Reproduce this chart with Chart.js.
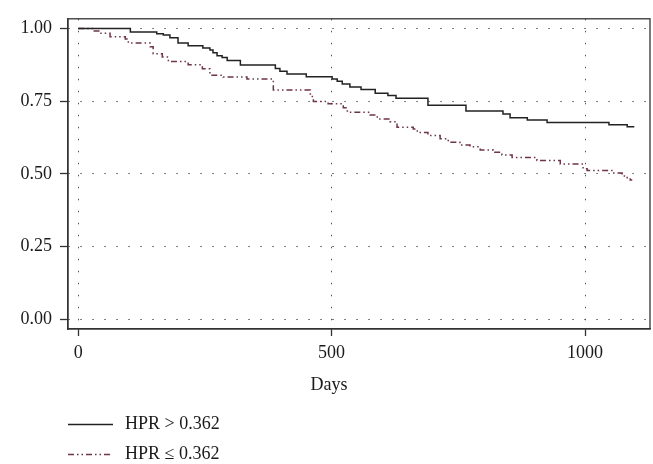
<!DOCTYPE html>
<html>
<head>
<meta charset="utf-8">
<script src="https://cdn.jsdelivr.net/npm/chart.js@4"></script>
<style>
  html, body { margin: 0; padding: 0; background: #fff; }
  #wrap { position: relative; width: 653px; height: 464px; }
  #km { position: absolute; left: 0; top: 0; }
  .leg { position: absolute; left: 68px; height: 20px; font: 18px "Liberation Serif", serif; color: #1a1a1a; white-space: nowrap; }
  .leg svg { position: absolute; left: 0; top: 0; }
  .leg span { position: absolute; left: 57px; top: -1px; line-height: 20px; }
  #xt { position: absolute; left: 279px; width: 100px; top: 374px; text-align: center; font: 18px "Liberation Serif", serif; color: #1a1a1a; line-height: 20px; }
</style>
</head>
<body>
<div id="wrap">
  <canvas id="km" width="653" height="464"></canvas>
  <div id="xt">Days</div>
  <div class="leg" style="top:414px"><svg width="46" height="20"><line x1="0" y1="10.5" x2="45" y2="10.5" stroke="#222" stroke-width="1.5"/></svg><span>HPR &gt; 0.362</span></div>
  <div class="leg" style="top:444px"><svg width="46" height="20"><line x1="0" y1="10.5" x2="45" y2="10.5" stroke="#6d3545" stroke-width="1.5" stroke-dasharray="6 3 1.5 3 1.5 3"/></svg><span>HPR ≤ 0.362</span></div>
</div>
<script>
// Kaplan-Meier style survival curves, HPR split at 0.362
const xTicks = [0, 500, 1000];
const yTicks = [0, 0.25, 0.5, 0.75, 1];

// HPR > 0.362
const hiDays = [0, 103, 155, 168, 181, 197, 217, 246, 260, 266, 274, 284, 294, 320, 389, 398, 412, 450, 501, 511, 521, 536, 558, 586, 611, 627, 690, 765, 838, 852, 886, 925, 1047, 1083, 1097];
const hiSurv = [1.0, 0.988, 0.982, 0.977, 0.968, 0.950, 0.940, 0.933, 0.926, 0.916, 0.906, 0.900, 0.890, 0.874, 0.862, 0.853, 0.843, 0.834, 0.826, 0.818, 0.809, 0.799, 0.790, 0.777, 0.769, 0.760, 0.736, 0.716, 0.706, 0.693, 0.685, 0.677, 0.669, 0.662, 0.662];

// HPR <= 0.362
const loDays = [0, 30, 43, 63, 93, 99, 142, 148, 166, 178, 217, 245, 260, 286, 333, 385, 458, 464, 493, 523, 531, 576, 590, 615, 629, 661, 669, 690, 714, 730, 753, 773, 793, 819, 836, 856, 905, 951, 996, 1004, 1055, 1073, 1083, 1089, 1093];
const loSurv = [1.0, 0.991, 0.983, 0.971, 0.964, 0.950, 0.937, 0.913, 0.902, 0.886, 0.875, 0.861, 0.839, 0.833, 0.826, 0.788, 0.766, 0.749, 0.741, 0.727, 0.712, 0.702, 0.689, 0.679, 0.660, 0.654, 0.642, 0.632, 0.621, 0.609, 0.599, 0.593, 0.582, 0.574, 0.565, 0.556, 0.546, 0.534, 0.518, 0.512, 0.503, 0.493, 0.487, 0.479, 0.479];

const toPts = (xs, ys) => xs.map((x, i) => ({ x: x, y: ys[i] }));

const font = { family: '"Liberation Serif", serif', size: 18 };

// full box round the plot area
const frame = {
  id: 'frame',
  afterDraw(chart) {
    const a = chart.chartArea, c = chart.ctx;
    c.save();
    c.strokeStyle = '#333';
    c.lineWidth = 1.3;
    c.strokeRect(a.left, a.top, a.right - a.left, a.bottom - a.top);
    c.restore();
  }
};

new Chart(document.getElementById('km'), {
  type: 'line',
  data: {
    datasets: [{
      label: 'HPR > 0.362',
      data: toPts(hiDays, hiSurv),
      borderColor: '#222',
      borderWidth: 1.5,
      stepped: true,
      pointRadius: 0
    }, {
      label: 'HPR ≤ 0.362',
      data: toPts(loDays, loSurv),
      borderColor: '#6d3545',
      borderWidth: 1.5,
      borderDash: [6, 3, 1.5, 3, 1.5, 3],
      stepped: true,
      pointRadius: 0
    }]
  },
  options: {
    responsive: false,
    animation: false,
    layout: { padding: { left: 0, right: 3, top: 10, bottom: 68 } },
    plugins: { legend: { display: false }, tooltip: { enabled: false } },
    scales: {
      x: {
        type: 'linear',
        min: -20, max: 1128,
        afterBuildTicks: s => { s.ticks = xTicks.map(v => ({ value: v })); },
        afterFit: s => { s.height = 67; },
        grid: { color: '#555', lineWidth: 1, tickLength: 7, tickColor: '#333', tickWidth: 1.3, tickBorderDash: [] },
        border: { display: true, color: '#333', width: 1.3, dash: [1.5, 10.5] },
        ticks: { font: font, color: '#1a1a1a', padding: 6, maxRotation: 0, callback: v => String(v) }
      },
      y: {
        min: -0.033, max: 1.033,
        afterBuildTicks: s => { s.ticks = yTicks.map(v => ({ value: v })); },
        afterFit: s => { s.width = 68; },
        grid: { color: '#555', lineWidth: 1, tickLength: 8, tickColor: '#333', tickWidth: 1.3, tickBorderDash: [] },
        border: { display: true, color: '#333', width: 1.3, dash: [1.5, 10.5] },
        ticks: { font: font, color: '#1a1a1a', padding: 8, callback: v => v.toFixed(2) }
      }
    }
  },
  plugins: [frame]
});
</script>
</body>
</html>
